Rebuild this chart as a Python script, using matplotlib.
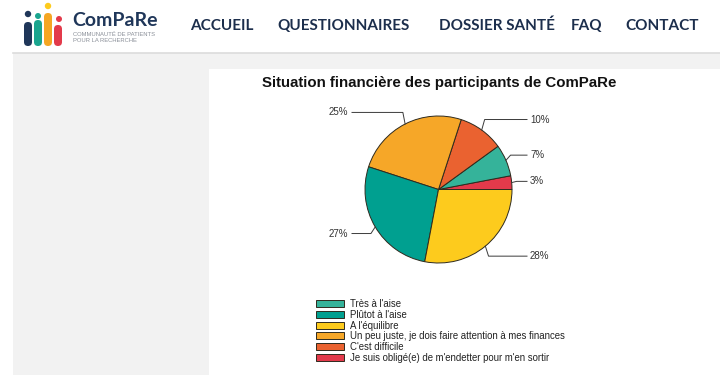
import matplotlib.pyplot as plt
from matplotlib.patches import Rectangle, FancyBboxPatch, Circle
import numpy as np

# données du graphique
categories = ["Très à l'aise", "Plûtot à l'aise", "A l'équilibre",
              "Un peu juste, je dois faire attention à mes finances",
              "C'est difficile", "Je suis obligé(e) de m'endetter pour m'en sortir"]
values = [7, 27, 28, 25, 10, 3]
colors = ['#35b39a', '#00a090', '#fdcb1d', '#f6a728', '#ea6230', '#e33a4b']

title = "Situation financière des participants de ComPaRe"
nav_items = ["ACCUEIL", "QUESTIONNAIRES", "DOSSIER SANTÉ", "FAQ", "CONTACT"]
nav_x = [221.5, 343, 497, 587, 662.5]

W, H = 720, 375
fig = plt.figure(figsize=(W / 100, H / 100), dpi=100)
fig.patch.set_facecolor('white')

# fond en coordonnées pixel
bg = fig.add_axes([0, 0, 1, 1])
bg.set_xlim(0, W)
bg.set_ylim(H, 0)
bg.axis('off')
bg.add_patch(Rectangle((13, 53), W - 13, H - 53, facecolor='#f2f2f2', edgecolor='none'))
bg.plot([13, W], [52.5, 52.5], color='#dcdcdc', lw=1.2)
bg.add_patch(Rectangle((209, 69), W - 209, H - 69, facecolor='white', edgecolor='none'))

# logo
navy = '#1f3659'
for x0, y0, h, c in [(24, 22, 24, navy), (34, 20, 26, '#1aa58f'),
                     (44, 13, 33, '#f5a623'), (54, 25, 21, '#e33a4b')]:
    bg.add_patch(FancyBboxPatch((x0, y0), 8, h, boxstyle='round,pad=0,rounding_size=4',
                                facecolor=c, edgecolor='none'))
for cx, cy, r, c in [(28, 14, 3.2, navy), (38, 16, 3.0, '#1aa58f'),
                     (48, 6, 3.2, '#fdcb1d'), (59, 19, 3.0, '#e33a4b')]:
    bg.add_patch(Circle((cx, cy), r, facecolor=c, edgecolor='none'))
bg.text(72, 20, "ComPaRe", fontsize=14, fontweight='bold', family='Lato',
        color=navy, va='center', ha='left')
bg.text(73, 35, "COMMUNAUTÉ DE PATIENTS", fontsize=4.2, family='Liberation Sans',
        color='#8a8f98', va='center', ha='left')
bg.text(73, 41, "POUR LA RECHERCHE", fontsize=4.2, family='Liberation Sans',
        color='#8a8f98', va='center', ha='left')

for lab, x in zip(nav_items, nav_x):
    bg.text(x, 25.5, lab, fontsize=11, fontweight='bold', family='Lato',
            color='#1c2e4c', ha='center', va='center')

bg.text(439.5, 83.5, title, fontsize=10.8, fontweight='bold',
        family='Liberation Sans', color='#111111', ha='center', va='center')

# camembert : axes en pixels centrés sur le centre du disque
cx, cy, R = 438.5, 189.5, 73.5
left, right, top, bottom = 290, 590, 95, 285
ax = fig.add_axes([left / W, 1 - bottom / H, (right - left) / W, (bottom - top) / H])
order = np.argsort(values)
pie_vals = [values[i] for i in order]
pie_cols = [colors[i] for i in order]
wedges, _ = ax.pie(pie_vals, colors=pie_cols, startangle=0, counterclock=True,
                   radius=R, center=(0, 0),
                   wedgeprops=dict(edgecolor='#2e2a1e', linewidth=0.7))
ax.set_aspect('auto')
ax.set_xlim(left - cx, right - cx)
ax.set_ylim(cy - bottom, cy - top)
ax.axis('off')

for w, v in zip(wedges, pie_vals):
    th = np.deg2rad((w.theta1 + w.theta2) / 2)
    ex, ey = R * np.cos(th), R * np.sin(th)
    kx, ky = (R + 5) * np.cos(th), (R + 13) * np.sin(th)
    if np.cos(th) >= 0:
        endx, tx, ha = 88.5, 91.5, 'left'
    else:
        endx, tx, ha = -86.5, -90.0, 'right'
    ax.plot([ex, kx, endx], [ey, ky, ky], color='#3a3a3a', lw=0.7, clip_on=False)
    ax.text(tx, ky, f"{v}%", fontsize=7, family='Liberation Sans', color='#333333',
            ha=ha, va='center')

# légende dans l'ordre des catégories
handles = [wedges[list(order).index(i)] for i in range(len(categories))]
leg = fig.legend(handles, categories, loc='upper left',
                 bbox_to_anchor=(316 / W, 1 - 299 / H), frameon=False,
                 prop={'family': 'Liberation Sans', 'size': 6.9},
                 handlelength=2.95, handleheight=0.75, handletextpad=0.65,
                 labelspacing=0.08, borderpad=0, borderaxespad=0)
for t in leg.get_texts():
    t.set_color('#222222')

fig.savefig('out.png', dpi=100)
